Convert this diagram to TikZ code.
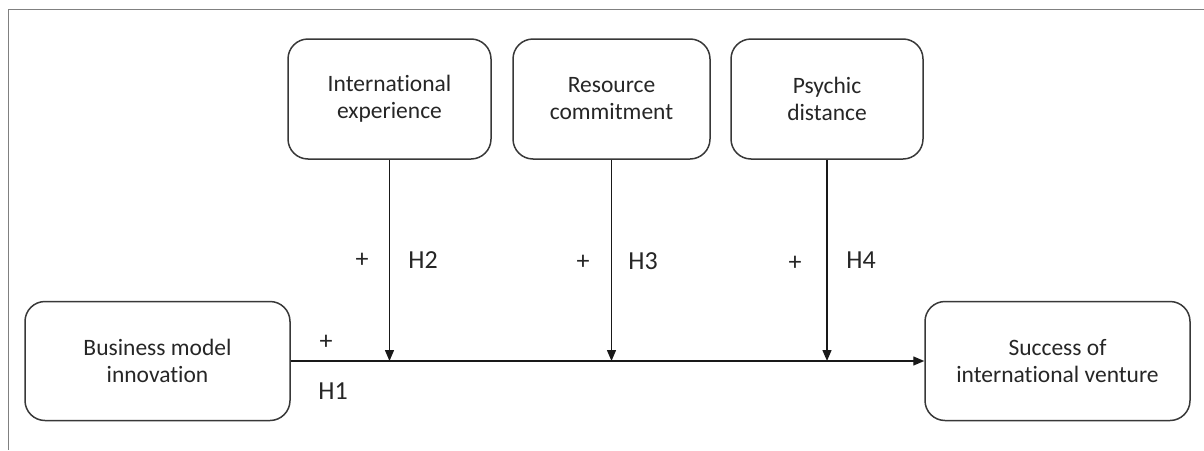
\documentclass[tikz,border=0pt]{standalone}
\usepackage{fontspec}
\setmainfont{Carlito}[Ligatures=NoCommon]
\usetikzlibrary{arrows.meta}
\begin{document}
\begin{tikzpicture}[x=1pt,y=-1pt,
  box/.style={draw=black!78, line width=1.5pt, rounded corners=20pt, align=center,
    inner sep=0pt, font=\fontsize{23.5}{27}\selectfont, text=black!85},
  arr/.style={draw=black!90, line width=1.4pt, -{Triangle[length=11pt,width=9pt]}},
  lab/.style={font=\fontsize{26}{30}\selectfont, text=black!85, inner sep=0pt},
  frame/.style={draw=black!50, line width=1.6pt}]
\useasboundingbox (0,0) rectangle (1204,450);
\coordinate (ftl) at (8.5,9.5);
\coordinate (ftr) at (1204,9.5);
\coordinate (fbl) at (8.5,450);
\draw[frame] (ftr) -- (ftl) -- (fbl);

\node[box, minimum width=203pt, minimum height=120pt] (ie) at (389.5,99) {International\\experience};
\node[box, minimum width=197pt, minimum height=120pt] (rc) at (611.5,99) {Resource\\commitment};
\node[box, minimum width=192pt, minimum height=120pt] (pd) at (827,99) {Psychic\\distance};
\node[box, minimum width=265pt, minimum height=119pt] (bmi) at (157.5,361) {Business model\\innovation};
\node[box, minimum width=265pt, minimum height=119pt] (siv) at (1057.5,361) {Success of\\international venture};

\draw[arr] (bmi.east) -- (siv.west);
\draw[arr] (ie.south) -- (ie.south |- bmi.east);
\draw[arr] (rc.south) -- (rc.south |- bmi.east);
\draw[arr] (pd.south) -- (pd.south |- bmi.east);

\node[lab] (p1) at (326,342) {+};
\node[lab] (h1) at (333,391) {H1};
\node[lab] (p2) at (362,260) {+};
\node[lab] (h2) at (423,260) {H2};
\node[lab] (p3) at (583,262) {+};
\node[lab] (h3) at (643,261) {H3};
\node[lab] (p4) at (795,263) {+};
\node[lab] (h4) at (861,260) {H4};
\end{tikzpicture}
\end{document}
